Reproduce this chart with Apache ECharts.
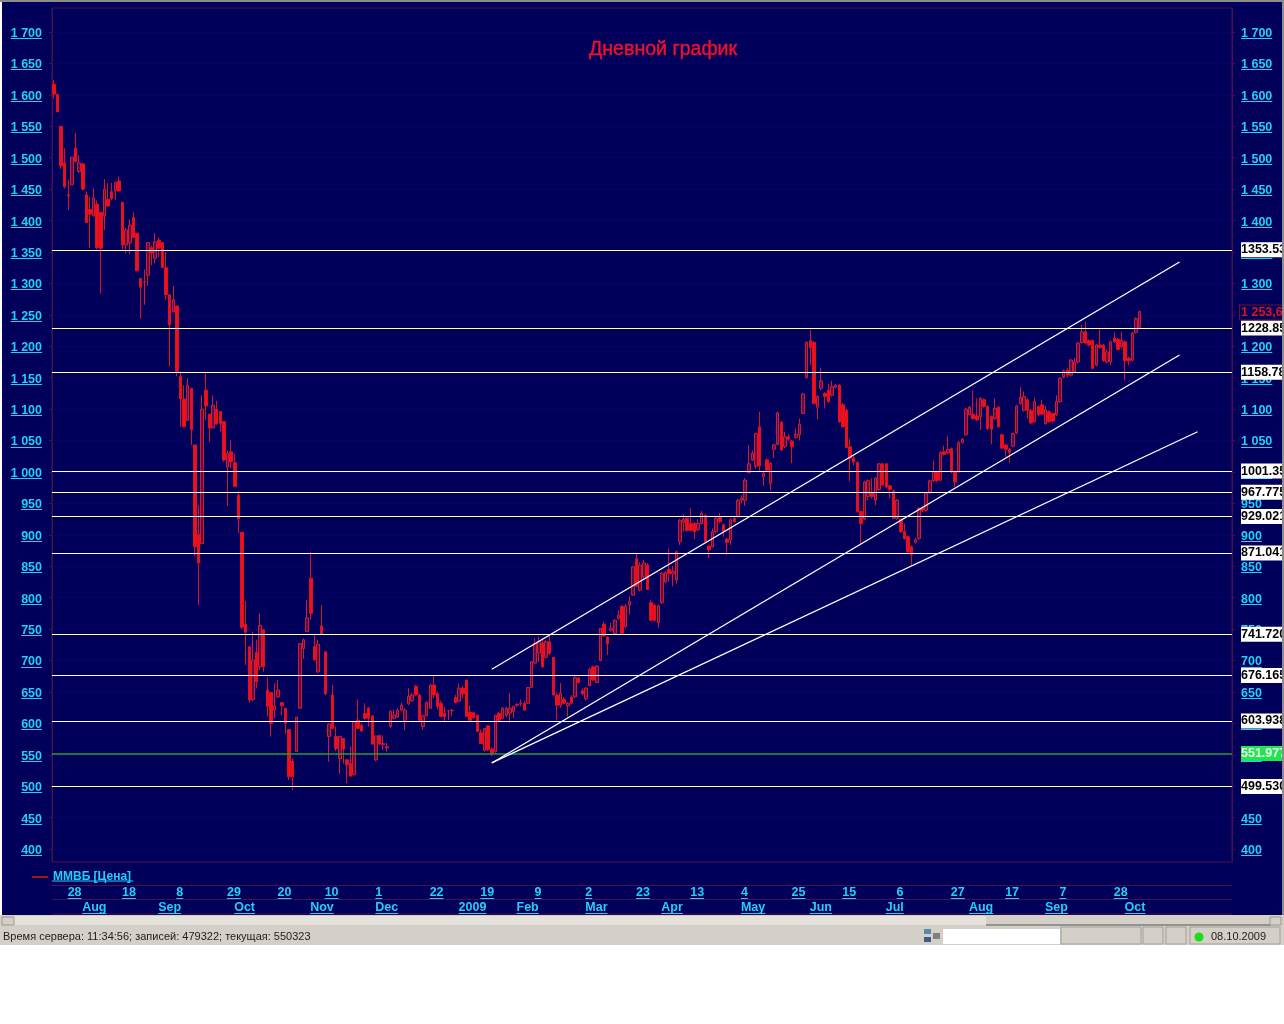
<!DOCTYPE html>
<html>
<head>
<meta charset="utf-8">
<title>Дневной график</title>
<script src="https://cdn.jsdelivr.net/npm/echarts@6/dist/echarts.min.js"></script>
<style>
  html, body { margin: 0; padding: 0; background: #fff; }
  #main { width: 1284px; height: 1024px; }
</style>
</head>
<body>
<div id="main"></div>
<script>
// daily bars: open, close, low, high
var candles = [
  [1617,1601,1594,1624],[1601,1573,1573,1601],[1550,1487,1482,1550],[1492,1454,1451,1515],[1441,1439,1417,1465],
  [1457,1501,1457,1501],[1515,1494,1492,1539],[1478,1492,1475,1504],[1490,1450,1448,1492],[1441,1397,1397,1446],
  [1418,1410,1356,1438],[1408,1436,1406,1451],[1426,1357,1354,1432],[1413,1356,1284,1413],[1408,1450,1385,1466],
  [1434,1423,1422,1460],[1446,1435,1432,1460],[1447,1461,1433,1461],[1463,1447,1446,1470],[1429,1361,1354,1429],
  [1361,1385,1348,1388],[1364,1393,1347,1402],[1405,1373,1372,1413],[1380,1320,1319,1380],[1308,1294,1244,1308],
  [1302,1303,1266,1322],[1313,1365,1296,1365],[1357,1348,1329,1360],[1340,1366,1332,1380],[1369,1356,1342,1373],
  [1365,1325,1325,1365],[1325,1282,1274,1350],[1282,1234,1168,1282],[1255,1274,1254,1296],[1264,1160,1152,1264],
  [1152,1116,1072,1160],[1116,1072,1072,1138],[1082,1138,1082,1149],[1133,1067,1043,1133],[1043,881,866,1043],
  [901,855,788,947],[886,1100,886,1122],[1130,1105,1083,1157],[1092,1070,1048,1092],[1070,1106,1070,1122],
  [1100,1077,1075,1113],[1096,1077,1064,1096],[1080,1019,1016,1080],[1008,1029,946,1034],[1032,1016,1006,1051],
  [1015,977,977,1029],[963,925,903,970],[904,753,750,904],[758,745,693,795],[722,637,633,722],
  [638,701,635,746],[713,666,656,733],[690,756,685,775],[749,690,682,749],[653,627,611,673],
  [649,600,579,649],[621,628,608,664],[642,653,640,669],[633,628,613,633],[624,600,584,624],
  [590,515,510,590],[540,515,494,544],[555,610,555,610],[624,727,624,727],[719,733,703,735],
  [746,768,746,796],[831,775,765,873],[722,701,700,741],[682,726,680,733],[755,742,742,788],
  [714,647,645,714],[579,599,539,600],[645,592,590,661],[579,560,556,595],[544,579,520,579],
  [576,559,536,576],[542,534,505,543],[536,516,516,563],[518,603,518,603],[605,592,590,638],
  [597,588,586,600],[616,608,606,632],[624,608,595,626],[612,567,566,612],[542,580,540,580],
  [581,567,566,581],[566,568,558,581],[561,563,555,569],[595,619,593,621],[608,613,606,622],
  [610,621,609,624],[621,629,619,633],[605,621,589,624],[631,643,629,656],[636,645,634,648],
  [659,645,644,661],[645,605,603,647],[595,612,590,614],[612,633,611,635],[624,661,623,663],
  [661,645,640,675],[647,627,622,650],[632,611,610,636],[616,611,602,626],[620,620,605,621],
  [621,620,612,623],[641,633,632,645],[635,656,634,663],[656,647,640,660],[669,611,611,669],
  [618,605,604,628],[617,609,607,619],[613,587,586,614],[585,568,567,590],[557,592,555,592],
  [596,558,556,596],[559,552,548,562],[555,613,553,613],[616,605,604,618],[608,624,607,626],
  [613,624,610,626],[616,624,601,648],[619,627,608,628],[629,630,626,632],[631,632,627,638],
  [632,621,620,635],[632,657,631,658],[657,698,656,699],[696,727,695,735],[712,730,698,738],
  [728,690,688,735],[705,730,703,732],[730,711,709,741],[705,645,644,705],[645,629,605,648],
  [629,648,625,664],[638,632,630,642],[628,632,611,634],[642,632,630,645],[642,673,641,675],
  [672,665,663,674],[652,647,645,656],[639,656,636,658],[660,686,659,688],[690,669,667,692],
  [665,691,664,693],[700,751,699,751],[758,739,738,762],[737,727,709,739],[748,751,746,760],
  [743,764,742,766],[767,772,765,780],[786,743,742,788],[754,786,752,790],[788,794,773,802],
  [804,849,803,850],[862,818,817,871],[812,852,810,856],[833,855,830,860],[852,813,812,855],
  [792,764,763,796],[788,764,762,790],[760,787,752,789],[792,839,790,841],[825,840,823,842],
  [845,838,825,878],[838,842,818,850],[828,873,823,875],[889,923,884,925],[920,925,905,933],
  [926,907,905,928],[918,907,905,942],[918,905,893,920],[908,918,906,925],[918,934,916,938],
  [931,889,888,933],[882,876,863,884],[881,905,880,910],[905,926,903,928],[929,921,918,934],
  [916,905,897,918],[893,888,868,895],[892,924,884,926],[926,921,919,928],[929,955,927,957],
  [955,958,950,963],[955,987,946,990],[999,1013,998,1043],[1019,1030,1017,1034],[1009,1061,1005,1063],
  [1072,1010,1002,1096],[992,998,978,1002],[1019,1003,1000,1022],[982,1014,971,1016],[1036,1043,1022,1045],
  [1044,1094,1042,1096],[1079,1035,1033,1081],[1040,1056,1038,1064],[1056,1052,1050,1060],[1049,1040,1014,1051],
  [1055,1060,1053,1069],[1059,1076,1050,1085],[1093,1124,1092,1126],[1150,1206,1149,1208],[1209,1198,1170,1226],
  [1206,1109,1108,1208],[1103,1120,1084,1122],[1133,1145,1130,1166],[1125,1120,1101,1127],[1130,1112,1110,1140],
  [1122,1136,1120,1145],[1135,1138,1133,1140],[1138,1080,1078,1140],[1107,1072,1070,1110],[1098,1039,1038,1100],
  [1040,1022,985,1053],[1022,1016,1010,1025],[1015,937,935,1017],[937,918,886,939],[925,984,923,986],
  [961,986,955,988],[968,961,958,990],[955,990,947,992],[972,1013,970,1014],[1013,979,978,1014],
  [1013,976,974,1014],[978,972,958,980],[970,926,925,972],[926,955,924,957],[925,905,903,926],
  [905,894,892,918],[897,873,872,899],[881,868,852,883],[888,892,886,895],[894,942,892,944],
  [943,938,936,945],[939,966,937,968],[967,986,965,988],[986,1000,984,1018],[1000,986,984,1002],
  [987,1031,985,1033],[1032,1028,1026,1042],[1030,1036,1028,1057],[1037,1000,998,1039],[1000,984,976,1002],
  [1000,1047,999,1049],[1047,1052,1045,1054],[1059,1100,1058,1102],[1091,1103,1090,1105],[1092,1085,1083,1130],
  [1089,1083,1081,1117],[1088,1117,1067,1119],[1115,1104,1102,1117],[1104,1069,1067,1106],[1088,1068,1044,1090],
  [1085,1101,1083,1117],[1103,1072,1070,1105],[1059,1038,1036,1061],[1043,1036,1024,1045],[1036,1031,1015,1038],
  [1041,1061,1039,1063],[1062,1105,1060,1107],[1109,1119,1107,1135],[1098,1120,1096,1128],[1115,1098,1085,1117],
  [1098,1078,1076,1100],[1080,1112,1078,1118],[1104,1091,1089,1106],[1107,1092,1090,1115],[1077,1099,1075,1105],
  [1096,1080,1078,1098],[1093,1081,1079,1095],[1091,1112,1089,1122],[1112,1149,1110,1151],[1151,1161,1149,1163],
  [1162,1154,1150,1165],[1154,1178,1152,1180],[1160,1175,1158,1181],[1175,1205,1173,1207],[1206,1223,1204,1234],
  [1223,1205,1203,1239],[1209,1202,1200,1211],[1209,1165,1163,1211],[1170,1202,1168,1204],[1202,1198,1196,1227],
  [1202,1177,1175,1204],[1175,1191,1173,1195],[1175,1207,1170,1209],[1213,1207,1205,1222],[1211,1195,1193,1213],
  [1199,1210,1197,1223],[1207,1177,1146,1209],[1181,1177,1170,1183],[1178,1221,1176,1223],[1222,1244,1220,1246],
  [1230,1255,1228,1257]
];
var emptyBars = 25; // free space right of the last bar

var priceTicks = [400,450,500,550,600,650,700,750,800,850,900,950,1000,1050,1100,1150,1200,1250,1300,1350,1400,1450,1500,1550,1600,1650,1700];

var dayTicks = [3,18,33,47,61,74,88,103,117,132,146,160,175,189,203,217,232,247,262,277,292];
var dayLabels = ['28','18','8','29','20','10','1','22','19','9','2','23','13','4','25','15','6','27','17','7','28'];
var monthTicks = [7,28,49,70,88,111,127,146,167,189,208,229,252,273,295];
var monthLabels = ['Aug','Sep','Oct','Nov','Dec','2009','Feb','Mar','Apr','May','Jun','Jul','Aug','Sep','Oct'];

// horizontal levels with the text shown in their right-hand tags
var levels = [1353.53,1228.85,1158.78,1001.35,967.775,929.021,871.041,741.72,676.165,603.938,499.53];
var levelLabels = ['1353.53','1228.85','1158.78','1001.35','967.775','929.021','871.041','741.720','676.165','603.938','499.530'];
var greenLevel = 551.97;
var greenLabel = '551.977';
var lastPrice = 1253.6;
var lastLabel = '1 253,6';

// channel lines: [bar index, price] pairs
var trendLines = [
  [[121,686],[311,1334]],
  [[121,537],[311,1186]],
  [[121,537],[316,1064]]
];

var LABEL_FONT = 'bold 12.5px "Liberation Sans"';
var CYAN = '#1fd0f8';
var FRAME = '#47104f';
var NAVY = '#00005a';

var categories = [];
for (var n = 0; n < candles.length + emptyBars; n++) {
  categories.push(String(n));
}

function priceText(v) {
  return v >= 1000 ? Math.floor(v / 1000) + ' ' + String(v % 1000).padStart(3, '0') : String(v);
}

function xAxisRow(offset, margin, ticks, labels) {
  return {
    type: 'category',
    data: categories,
    position: 'bottom',
    offset: offset,
    axisLine: { lineStyle: { color: FRAME } },
    axisTick: {
      alignWithLabel: true,
      length: 14,
      lineStyle: { color: FRAME },
      interval: function (i) { return ticks.indexOf(i) >= 0; }
    },
    axisLabel: {
      margin: margin,
      align: 'left',
      padding: [0, 0, 0, 3],
      color: CYAN,
      fontFamily: 'Liberation Sans',
      fontWeight: 'bold',
      fontSize: 12.5,
      hideOverlap: false,
      interval: function (i) { return ticks.indexOf(i) >= 0; },
      formatter: function (v) { return labels[ticks.indexOf(Number(v))]; }
    },
    splitLine: { show: false }
  };
}

function yAxisSide(side, margin) {
  return {
    type: 'value',
    position: side,
    min: 379.4,
    max: 1738.2,
    axisLine: { show: true, lineStyle: { color: FRAME } },
    axisTick: { show: true, length: 3, customValues: priceTicks, lineStyle: { color: FRAME } },
    axisLabel: {
      margin: margin,
      customValues: priceTicks,
      color: CYAN,
      fontFamily: 'Liberation Sans',
      fontWeight: 'bold',
      fontSize: 12.5,
      formatter: function (v) { return '{p|' + priceText(v) + '}'; },
      rich: { p: { padding: [3, 0, 0, 0] } }
    },
    splitLine: { show: side === 'left', lineStyle: { color: '#07076a', type: 'dotted' } }
  };
}

var levelData = [];
levels.forEach(function (v, i) {
  levelData.push({
    yAxis: v,
    lineStyle: { color: '#ffffff', width: 1.2, type: 'solid' },
    label: {
      show: true, position: 'end', distance: 9, formatter: levelLabels[i],
      color: '#000', backgroundColor: '#fff', fontFamily: 'Liberation Sans', fontWeight: 'bold', fontSize: 12.5,
      padding: [2, 6, 1, 0], lineHeight: 12
    }
  });
});
levelData.push({
  yAxis: greenLevel,
  lineStyle: { color: '#1fa032', width: 1.5, type: 'solid' },
  label: {
    show: true, position: 'end', distance: 9, formatter: greenLabel,
    color: '#e8ffe8', backgroundColor: '#22e650', fontFamily: 'Liberation Sans', fontWeight: 'bold', fontSize: 12.5,
    padding: [2, 6, 1, 0], lineHeight: 12
  }
});
levelData.push({
  yAxis: lastPrice,
  lineStyle: { width: 0, color: 'rgba(0,0,0,0)' },
  label: {
    show: true, position: 'end', distance: 8, formatter: lastLabel,
    color: '#e01020', backgroundColor: NAVY, borderColor: '#6a1030', borderWidth: 1,
    fontFamily: 'Liberation Sans', fontWeight: 'bold', fontSize: 12.5, padding: [2, 6, 0, 1], lineHeight: 12
  }
});
trendLines.forEach(function (t) {
  levelData.push([
    { coord: [t[0][0], t[0][1]], lineStyle: { color: '#ffffff', width: 1.3, type: 'solid' }, label: { show: false } },
    { coord: [t[1][0], t[1][1]] }
  ]);
});

var myChart = echarts.init(document.getElementById('main'), null, { renderer: 'canvas' });

var option = {
  animation: false,
  backgroundColor: '#ffffff',
  title: {
    text: 'Дневной график',
    left: 584,
    top: 35,
    textStyle: { color: '#f0102a', fontFamily: 'Liberation Sans', fontWeight: 'normal', fontSize: 19.6, textBorderColor: '#f0102a', textBorderWidth: 0.4 }
  },
  legend: {
    left: 27,
    top: 866,
    icon: 'rect',
    itemWidth: 16,
    itemHeight: 2,
    itemStyle: { color: '#a01818', borderWidth: 0 },
    textStyle: { color: CYAN, fontFamily: 'Liberation Sans', fontWeight: 'bold', fontSize: 12 },
    data: ['ММВБ [Цена]']
  },
  grid: {
    show: true,
    left: 52,
    right: 52,
    top: 8,
    height: 854,
    backgroundColor: 'transparent',
    borderColor: FRAME,
    borderWidth: 1
  },
  xAxis: [
    xAxisRow(23, 1, dayTicks, dayLabels),
    xAxisRow(37, 2, monthTicks, monthLabels)
  ],
  yAxis: [
    yAxisSide('left', 10),
    yAxisSide('right', 9)
  ],
  series: [
    {
      name: 'ММВБ [Цена]',
      type: 'candlestick',
      xAxisIndex: 0,
      yAxisIndex: 0,
      barWidth: 3,
      clip: false,
      data: candles,
      itemStyle: {
        color: '#5a1045',
        color0: '#f01018',
        borderColor: '#d41a30',
        borderColor0: '#e01020',
        borderWidth: 1
      },
      markLine: {
        silent: true,
        symbol: 'none',
        animation: false,
        precision: 3,
        data: levelData
      }
    }
  ]
};

myChart.setOption(option);

// underlines of the link-style labels and the window chrome round the chart
var measure = document.createElement('canvas').getContext('2d');
measure.font = LABEL_FONT;

function underline(x, y, text) {
  var w = measure.measureText(text).width;
  return { type: 'line', z: 1, silent: true, shape: { x1: x, y1: y, x2: x + w, y2: y }, style: { stroke: CYAN, lineWidth: 1 } };
}
function box(x, y, w, h, fill, z, stroke) {
  return { type: 'rect', z: z, silent: true, shape: { x: x, y: y, width: w, height: h }, style: { fill: fill, stroke: stroke || null, lineWidth: 1 } };
}
function statusText(x, y, text) {
  return { type: 'text', z: 61, silent: true, x: x, y: y, style: { text: text, fill: '#222', font: '11px "Liberation Sans"', textVerticalAlign: 'middle' } };
}

var graphics = [
  box(2, 2, 1280, 913, NAVY, -1),
  box(0, 0, 1284, 2, '#8c8c8c', 60),
  box(1282, 0, 2, 945, '#8c8c8c', 60),
  box(0, 915, 1284, 30, '#d4d0c8', 60),
  box(14, 916, 972, 9, '#e4e2da', 60),
  box(2, 917, 12, 8, '#d4d0c8', 61, '#9a9890'),
  box(1270, 917, 11, 8, '#d4d0c8', 61, '#9a9890'),
  { type: 'line', z: 61, silent: true, shape: { x1: 986, y1: 925, x2: 1270, y2: 925 }, style: { stroke: '#555', lineWidth: 1 } },
  box(943, 929, 117, 15, '#ffffff', 61),
  box(924, 929, 7, 5, '#5a8aa0', 62),
  box(924, 937, 7, 5, '#3a5a90', 62),
  box(933, 933, 7, 6, '#808080', 62),
  box(1061, 927, 80, 17, '#d4d0c8', 61, '#a0a098'),
  box(1143, 927, 20, 17, '#d4d0c8', 61, '#a0a098'),
  box(1166, 927, 20, 17, '#d4d0c8', 61, '#a0a098'),
  box(1190, 927, 90, 17, '#d4d0c8', 61, '#a0a098'),
  { type: 'circle', z: 62, silent: true, shape: { cx: 1199, cy: 937, r: 4.5 }, style: { fill: '#18e018' } },
  statusText(3, 937, 'Время сервера: 11:34:56; записей: 479322; текущая: 550323'),
  statusText(1211, 937, '08.10.2009'),
  { type: 'line', z: 1, silent: true, shape: { x1: 52, y1: 914, x2: 1232, y2: 914 }, style: { stroke: FRAME, lineWidth: 1 } },
  underline(52, 881, 'ММВБ [Цена]')
];

priceTicks.forEach(function (v) {
  var t = priceText(v);
  var y = Math.round(myChart.convertToPixel({ yAxisIndex: 0 }, v)) + 6.5;
  var w = measure.measureText(t).width;
  graphics.push(underline(42 - w, y, t));
  graphics.push(underline(1241, y, t));
});
dayTicks.forEach(function (i, k) {
  graphics.push(underline(myChart.convertToPixel({ xAxisIndex: 0 }, i) + 3, 898.5, dayLabels[k]));
});
monthTicks.forEach(function (i, k) {
  graphics.push(underline(myChart.convertToPixel({ xAxisIndex: 0 }, i) + 3, 913.5, monthLabels[k]));
});

myChart.setOption({ graphic: graphics });
</script>
</body>
</html>
